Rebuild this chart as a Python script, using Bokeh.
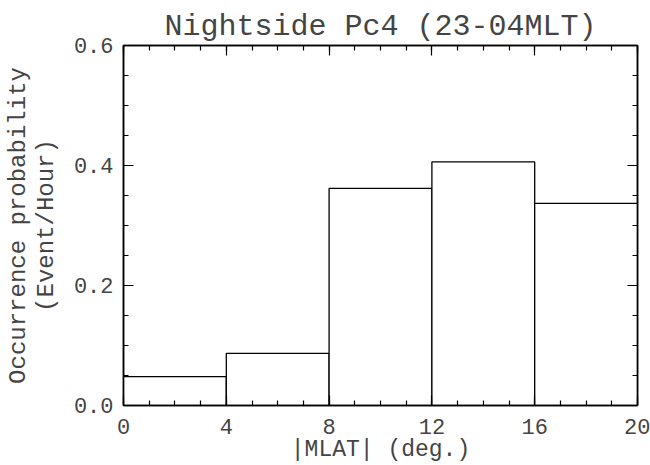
from bokeh.plotting import figure
from bokeh.models import LinearAxis, FixedTicker, PrintfTickFormatter, Range1d
from bokeh.embed import file_html
from bokeh.resources import INLINE

bin_left = [0, 4, 8, 12, 16]
bin_right = [4, 8, 12, 16, 20]
probability = [0.048, 0.087, 0.362, 0.406, 0.337]

x_major = [0, 4, 8, 12, 16, 20]
x_minor = [i for i in range(0, 21)]
y_major = [0.0, 0.2, 0.4, 0.6]
y_minor = [round(0.05 * i, 2) for i in range(0, 13)]

FONT = "Liberation Mono"

p = figure(width=650, height=465, output_backend="svg", toolbar_location=None,
           x_range=Range1d(0, 20), y_range=Range1d(0, 0.6),
           x_axis_location=None, y_axis_location=None,
           min_border_left=123, min_border_right=13, min_border_top=45, min_border_bottom=60)
p.grid.visible = False
p.background_fill_color = "white"
p.border_fill_color = "white"
p.outline_line_color = "black"
p.outline_line_width = 1.5

p.title.text = "Nightside Pc4 (23-04MLT)"
p.title.text_font = FONT
p.title.text_font_style = "normal"
p.title.text_font_size = "30px"
p.title.align = "center"
p.title.standoff = 4

p.quad(left=bin_left, right=bin_right, bottom=0, top=probability,
       fill_color="white", line_color="black", line_width=1.3)


def make_axis(ticks, minor, fmt, label, show_labels):
    ax = LinearAxis(ticker=FixedTicker(ticks=ticks, minor_ticks=minor))
    ax.formatter = PrintfTickFormatter(format=fmt)
    ax.major_tick_in = 10
    ax.major_tick_out = 0
    ax.minor_tick_in = 5
    ax.minor_tick_out = 0
    ax.axis_line_color = "black"
    ax.axis_line_width = 1.5
    ax.major_tick_line_width = 1.2
    ax.minor_tick_line_width = 1.2
    if show_labels:
        ax.major_label_text_font = FONT
        ax.major_label_text_font_size = "22px"
        ax.axis_label = label
        ax.axis_label_text_font = FONT
        ax.axis_label_text_font_size = "23px"
        ax.axis_label_text_font_style = "normal"
    else:
        ax.major_label_text_font_size = "1px"
        ax.major_label_text_color = None
        ax.major_label_standoff = 0
        ax.axis_label_standoff = 0
    return ax


xb = make_axis(x_major, x_minor, "%d", "|MLAT| (deg.)", True)
xb.major_label_standoff = 13
xb.axis_label_standoff = 0
xb.major_label_text_line_height = 0.9
xb.axis_label_text_line_height = 0.9
p.add_layout(xb, "below")

yl = make_axis(y_major, y_minor, "%.1f", "Occurrence probability\n(Event/Hour)", True)
yl.major_label_standoff = 10
yl.axis_label_standoff = 11
yl.axis_label_text_font_size = "24px"
yl.axis_label_text_line_height = 1.05
p.add_layout(yl, "left")

xt = make_axis(x_major, x_minor, "%d", "", False)
p.add_layout(xt, "above")
yr = make_axis(y_major, y_minor, "%.1f", "", False)
p.add_layout(yr, "right")

open("out.html", "w").write(file_html(p, INLINE))
